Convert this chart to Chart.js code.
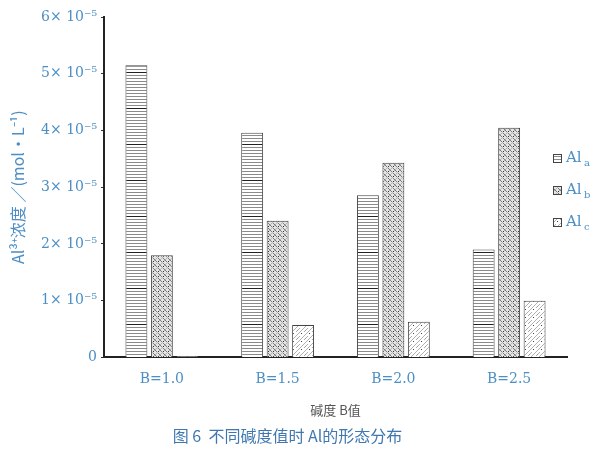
<!DOCTYPE html>
<html lang="zh">
  <head>
    <meta charset="UTF-8" />
    <title>不同碱度值时 Al的形态分布</title>
    <script src="https://cdn.jsdelivr.net/npm/chart.js"></script>
    <style>
      html, body { margin: 0; padding: 0; background: #fff; }
      #wrap { width: 600px; height: 450px; }
    </style>
  </head>
  <body>
    <div id="wrap"><canvas id="chart" width="600" height="450"></canvas></div>

    <script>
      // 数据 (mol/L)
      const categories = ["B=1.0", "B=1.5", "B=2.0", "B=2.5"];
      const seriesNames = ["a", "b", "c"];
      const alA = [5.15e-5, 3.96e-5, 2.86e-5, 1.9e-5];
      const alB = [1.8e-5, 2.41e-5, 3.43e-5, 4.05e-5];
      const alC = [0.02e-5, 0.57e-5, 0.63e-5, 1.0e-5];
      const yTicks = [0, 1e-5, 2e-5, 3e-5, 4e-5, 5e-5, 6e-5];

      const blue = "#4d8fc4";
      const serif = "'DejaVu Serif', 'Liberation Serif', serif";
      const cjk = "'Noto Sans CJK SC', sans-serif";

      // 填充图案
      function makePattern(w, h, draw) {
        const c = document.createElement("canvas");
        c.width = w;
        c.height = h;
        const g = c.getContext("2d");
        g.fillStyle = "#fff";
        g.fillRect(0, 0, w, h);
        draw(g);
        return document.getElementById("chart").getContext("2d").createPattern(c, "repeat");
      }

      const patA = makePattern(4, 36, (g) => {
        for (let y = 0; y < 36; y += 3) {
          g.fillStyle = y === 0 ? "#222" : "#8a8a8a";
          g.fillRect(0, y, 4, 1);
        }
      });
      const patB = makePattern(5, 5, (g) => {
        g.fillStyle = "#e4e4e4";
        g.fillRect(0, 0, 5, 5);
        g.strokeStyle = "#7a7a7a";
        g.lineWidth = 1;
        g.beginPath();
        g.moveTo(0, 0); g.lineTo(5, 5);
        g.moveTo(-3, 2); g.lineTo(3, 8);
        g.moveTo(2, -3); g.lineTo(8, 3);
        g.stroke();
        g.strokeStyle = "#b5b5b5";
        g.beginPath();
        g.moveTo(5, 0); g.lineTo(0, 5);
        g.stroke();
        g.fillStyle = "#333";
        g.fillRect(3, 1, 1, 1);
      });
      const patC = makePattern(8, 8, (g) => {
        g.strokeStyle = "#b0b0b0";
        g.lineWidth = 1;
        g.beginPath();
        g.moveTo(8, 0); g.lineTo(0, 8);
        g.moveTo(4, 0); g.lineTo(0, 4);
        g.stroke();
        g.fillStyle = "#444";
        g.fillRect(5, 5, 1, 1);
        g.fillStyle = "#999";
        g.fillRect(1, 2, 1, 1);
      });
      const patterns = [patA, patB, patC];

      // 图例 (带下标)
      const legendPlugin = {
        id: "subLegend",
        afterDraw(chart) {
          const ctx = chart.ctx;
          const ys = [158, 190, 222];
          ctx.save();
          chart.data.datasets.forEach((ds, i) => {
            const y = ys[i];
            ctx.fillStyle = ds.backgroundColor;
            ctx.fillRect(553, y - 4, 9, 9);
            ctx.strokeStyle = "#444";
            ctx.lineWidth = 1;
            ctx.strokeRect(553.5, y - 3.5, 8, 8);
            ctx.fillStyle = blue;
            ctx.textBaseline = "middle";
            ctx.font = "15px " + serif;
            ctx.fillText("Al", 566, y);
            ctx.font = "10px " + serif;
            ctx.fillText(seriesNames[i], 584, y + 5);
          });
          ctx.restore();
        },
      };

      new Chart(document.getElementById("chart"), {
        type: "bar",
        data: {
          labels: categories,
          datasets: [alA, alB, alC].map((d, i) => ({
            label: "Al" + seriesNames[i],
            data: d,
            backgroundColor: patterns[i],
            borderColor: "#444",
            borderWidth: 1,
            categoryPercentage: 0.66,
            barPercentage: 0.86,
          })),
        },
        options: {
          responsive: false,
          animation: false,
          layout: { padding: { top: 17, right: 33, left: 8, bottom: 4 } },
          plugins: {
            legend: { display: false },
            tooltip: { enabled: false },
            title: {
              display: true,
              position: "bottom",
              text: "图 6  不同碱度值时 Al的形态分布",
              color: "#3f78b0",
              font: { family: cjk, size: 16, weight: "normal" },
              padding: { top: 5, bottom: 0 },
            },
          },
          scales: {
            x: {
              grid: { display: false },
              border: { color: "#222", width: 2 },
              ticks: {
                color: blue,
                font: { family: serif, size: 14 },
                padding: 6,
              },
              title: {
                display: true,
                text: "碱度 B值",
                color: "#555",
                font: { family: cjk, size: 13 },
                padding: { top: 8, bottom: 4 },
              },
            },
            y: {
              min: 0,
              max: 6e-5,
              afterBuildTicks: (axis) => {
                axis.ticks = yTicks.map((v) => ({ value: v }));
              },
              afterFit: (axis) => {
                axis.width = 96;
              },
              grid: {
                drawOnChartArea: false,
                tickLength: 3,
                color: "#333",
              },
              border: { color: "#222", width: 2 },
              ticks: {
                color: blue,
                font: { family: serif, size: 14 },
                padding: 4,
                callback: (v) => {
                  const n = Math.round(v * 1e5);
                  return n === 0 ? "0" : n + "× 10⁻⁵";
                },
              },
              title: {
                display: true,
                text: "Al³⁺浓度 ／(mol·L⁻¹)",
                color: blue,
                font: { family: cjk, size: 16 },
                padding: { top: 0, bottom: 2 },
              },
            },
          },
        },
        plugins: [legendPlugin],
      });
    </script>
  </body>
</html>
